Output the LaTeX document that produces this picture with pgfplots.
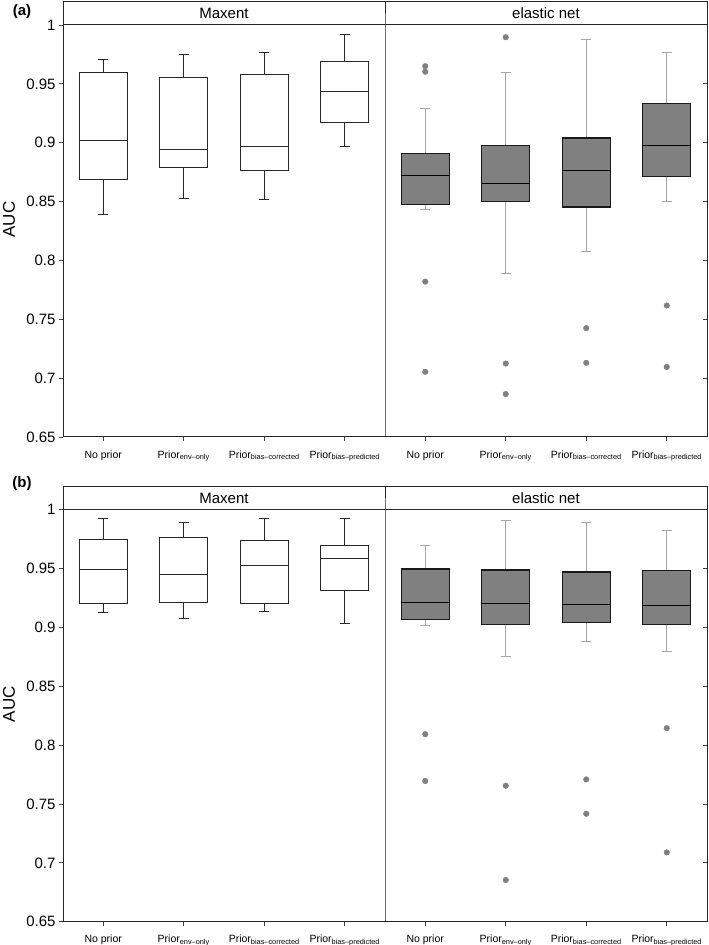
\documentclass[border=0pt]{standalone}
\usepackage{fontspec}
\setmainfont{Liberation Sans}
\usepackage{pgfplots}
\pgfplotsset{compat=1.18}
\usepgfplotslibrary{statistics}

\pgfplotsset{
  panel/.style={
    scale only axis, width=644pt, height=412pt,
    anchor=south west,
    xmin=0.5, xmax=8.5, ymin=0.65, ymax=1,
    xtick={1,2,3,4,5,6,7,8},
    xticklabels={No prior, Prior\textsubscript{env\textendash only}, Prior\textsubscript{bias\textendash corrected}, Prior\textsubscript{bias\textendash predicted},
                 No prior, Prior\textsubscript{env\textendash only}, Prior\textsubscript{bias\textendash corrected}, Prior\textsubscript{bias\textendash predicted}},
    ytick={0.65,0.7,0.75,0.8,0.85,0.9,0.95,1},
    yticklabels={0.65,0.7,0.75,0.8,0.85,0.9,0.95,1},
    tick align=outside, ytick pos=left, xtick pos=bottom,
    major tick length=4pt,
    axis line style={line width=1pt, black!85},
    tick style={line width=0.8pt, black!75},
    yticklabel style={font=\fontsize{15}{18}\selectfont},
    xticklabel style={font=\fontsize{10.5}{12}\selectfont, yshift=-6pt},
    ylabel={AUC},
    every axis y label/.style={at={(axis description cs:-0.0839,0.528)}, rotate=90, anchor=center, font=\fontsize{17}{20}\selectfont},
    clip=false,
    boxplot/draw direction=y,
  },
  maxbox/.style={draw=black!85, fill=white, line width=1pt,
    boxplot/draw direction=y,
    boxplot/box extend=0.6, boxplot/whisker extend=0.12,
    boxplot/every whisker/.style={fill=none},
    boxplot/every median/.style={fill=none}},
  enbox/.style={draw=black!90, fill=black!50, line width=1.1pt,
    boxplot/draw direction=y,
    mark=*, mark size=2.8pt, mark options={draw=black!50, fill=black!50, line width=0.4pt},
    boxplot/box extend=0.6, boxplot/whisker extend=0.12,
    boxplot/every whisker/.style={draw=black!35, fill=none, line width=0.9pt},
    boxplot/every median/.style={draw=black, fill=none, line width=1.2pt}},
}

\newcommand{\facetdeco}{%
  \draw[line width=1pt, black!85] (axis cs:4.5,0.65) -- (axis cs:4.5,1) -- ([yshift=23.5pt]axis cs:4.5,1);
  \draw[line width=1pt, black!85] (rel axis cs:0,1) rectangle ([yshift=23.5pt]rel axis cs:1,1);
  \node[font=\fontsize{15}{18}\selectfont] at ([yshift=11.75pt]axis cs:2.5,1) {Maxent};
  \node[font=\fontsize{15}{18}\selectfont] at ([yshift=11.75pt]axis cs:6.5,1) {elastic net};
  \draw[line width=0.8pt, black!75] (axis cs:8.5,0.70) -- ([xshift=-4pt]axis cs:8.5,0.70);
  \draw[line width=0.8pt, black!75] (axis cs:8.5,0.75) -- ([xshift=-4pt]axis cs:8.5,0.75);
  \draw[line width=0.8pt, black!75] (axis cs:8.5,0.80) -- ([xshift=-4pt]axis cs:8.5,0.80);
  \draw[line width=0.8pt, black!75] (axis cs:8.5,0.85) -- ([xshift=-4pt]axis cs:8.5,0.85);
  \draw[line width=0.8pt, black!75] (axis cs:8.5,0.90) -- ([xshift=-4pt]axis cs:8.5,0.90);
  \draw[line width=0.8pt, black!75] (axis cs:8.5,0.95) -- ([xshift=-4pt]axis cs:8.5,0.95);
}

\begin{document}
\begin{tikzpicture}
\useasboundingbox (0,0) rectangle (709pt,945pt);

% ---------------- panel (a) ----------------
\begin{axis}[panel, at={(63pt,508pt)}]
\addplot[maxbox, boxplot prepared={draw position=1, lower whisker=0.8394, lower quartile=0.8687, median=0.902, upper quartile=0.9597, upper whisker=0.9704}] coordinates {};
\addplot[maxbox, boxplot prepared={draw position=2, lower whisker=0.853, lower quartile=0.8786, median=0.894, upper quartile=0.955, upper whisker=0.9746}] coordinates {};
\addplot[maxbox, boxplot prepared={draw position=3, lower whisker=0.8515, lower quartile=0.8764, median=0.8966, upper quartile=0.958, upper whisker=0.977}] coordinates {};
\addplot[maxbox, boxplot prepared={draw position=4, lower whisker=0.8966, lower quartile=0.9175, median=0.9437, upper quartile=0.9687, upper whisker=0.9915}] coordinates {};
\addplot[enbox, boxplot prepared={draw position=5, lower whisker=0.8431, lower quartile=0.8476, median=0.8721, upper quartile=0.8907, upper whisker=0.929}] coordinates {(0,0.965) (0,0.9603) (0,0.782) (0,0.7054)};
\addplot[enbox, boxplot prepared={draw position=6, lower whisker=0.7888, lower quartile=0.8502, median=0.8656, upper quartile=0.8975, upper whisker=0.96}] coordinates {(0,0.9896) (0,0.7124) (0,0.6865)};
\addplot[enbox, boxplot prepared={draw position=7, lower whisker=0.8073, lower quartile=0.8454, median=0.8764, upper quartile=0.904, upper whisker=0.9879}] coordinates {(0,0.7425) (0,0.713)};
\addplot[enbox, boxplot prepared={draw position=8, lower whisker=0.8502, lower quartile=0.871, median=0.8978, upper quartile=0.9335, upper whisker=0.9763}] coordinates {(0,0.7617) (0,0.7095)};
\facetdeco
\end{axis}

% ---------------- panel (b) ----------------
\begin{axis}[panel, at={(63pt,23.3pt)}]
\addplot[maxbox, boxplot prepared={draw position=1, lower whisker=0.9123, lower quartile=0.9202, median=0.9491, upper quartile=0.9751, upper whisker=0.9921}] coordinates {};
\addplot[maxbox, boxplot prepared={draw position=2, lower whisker=0.9072, lower quartile=0.9208, median=0.9448, upper quartile=0.9768, upper whisker=0.9895}] coordinates {};
\addplot[maxbox, boxplot prepared={draw position=3, lower whisker=0.9132, lower quartile=0.9202, median=0.953, upper quartile=0.974, upper whisker=0.9926}] coordinates {};
\addplot[maxbox, boxplot prepared={draw position=4, lower whisker=0.903, lower quartile=0.9315, median=0.9587, upper quartile=0.97, upper whisker=0.9926}] coordinates {};
\addplot[enbox, boxplot prepared={draw position=5, lower whisker=0.9013, lower quartile=0.9064, median=0.9211, upper quartile=0.9496, upper whisker=0.97}] coordinates {(0,0.8093) (0,0.7695)};
\addplot[enbox, boxplot prepared={draw position=6, lower whisker=0.875, lower quartile=0.9024, median=0.9202, upper quartile=0.9488, upper whisker=0.9907}] coordinates {(0,0.7655) (0,0.6854)};
\addplot[enbox, boxplot prepared={draw position=7, lower whisker=0.888, lower quartile=0.9038, median=0.9194, upper quartile=0.9471, upper whisker=0.9895}] coordinates {(0,0.7709) (0,0.7417)};
\addplot[enbox, boxplot prepared={draw position=8, lower whisker=0.8798, lower quartile=0.9021, median=0.9185, upper quartile=0.948, upper whisker=0.9827}] coordinates {(0,0.8144) (0,0.7089)};
\facetdeco
\end{axis}

\node[font=\fontsize{15}{18}\selectfont\bfseries] at (22pt,933pt) {(a)};
\node[font=\fontsize{15}{18}\selectfont\bfseries] at (22pt,461pt) {(b)};
\end{tikzpicture}
\end{document}
